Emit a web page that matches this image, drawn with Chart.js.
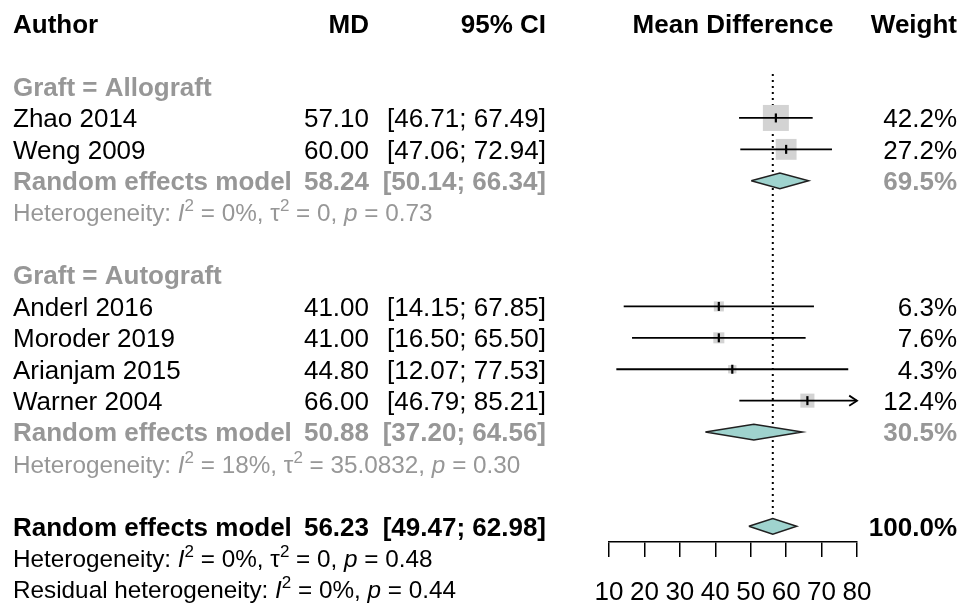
<!DOCTYPE html>
<html>
<head>
<meta charset="utf-8">
<script src="https://cdn.jsdelivr.net/npm/chart.js@4.4.0/dist/chart.umd.min.js"></script>
<style>
  html, body { margin: 0; padding: 0; background: #fff; }
  #wrap { width: 973px; height: 603px; position: relative; }
</style>
</head>
<body>
<div id="wrap"><canvas id="forest"></canvas></div>
<script>
// study level data
const studies = ['Zhao 2014', 'Weng 2009', 'Anderl 2016', 'Moroder 2019', 'Arianjam 2015', 'Warner 2004'];
const studyGraft = ['Allograft', 'Allograft', 'Autograft', 'Autograft', 'Autograft', 'Autograft'];
const md = [57.10, 60.00, 41.00, 41.00, 44.80, 66.00];
const ciLow = [46.71, 47.06, 14.15, 16.50, 12.07, 46.79];
const ciHigh = [67.49, 72.94, 67.85, 65.50, 77.53, 85.21];
const weight = [42.2, 27.2, 6.3, 7.6, 4.3, 12.4];

// subgroups
const groups = ['Allograft', 'Autograft'];
const groupMD = [58.24, 50.88];
const groupLow = [50.14, 37.20];
const groupHigh = [66.34, 64.56];
const groupWeight = [69.5, 30.5];
const groupI2 = ['0%', '18%'];
const groupTau2 = ['0', '35.0832'];
const groupP = ['0.73', '0.30'];

// overall
const overallMD = 56.23;
const overallLow = 49.47;
const overallHigh = 62.98;
const overallWeight = 100.0;
const overallI2 = '0%';
const overallTau2 = '0';
const overallP = '0.48';
const residualI2 = '0%';
const residualP = '0.44';

const xTicks = [10, 20, 30, 40, 50, 60, 70, 80];

const FONT = "'Liberation Sans', Arial, sans-serif";
const BLACK = '#000000';
const GREY = '#979797';
const SQUARE = '#d3d3d3';
const DIAMOND = '#9fd3ce';

// work out which row everything sits on
const studyRow = [];
const groupLabelRow = [], groupRERow = [], groupHetRow = [];
let row = 0;
groups.forEach((g) => {
  row += 2;
  groupLabelRow.push(row);
  studies.forEach((s, i) => {
    if (studyGraft[i] === g) { row++; studyRow[i] = row; }
  });
  row++; groupRERow.push(row);
  row++; groupHetRow.push(row);
});
const overallRow = row + 2;
const overallHetRow = overallRow + 1;
const residualRow = overallRow + 2;

const xMin = xTicks[0], xMax = xTicks[xTicks.length - 1];

function diamond(mid, lo, hi, r, color) {
  const h = 0.25;
  return {
    data: [{x: lo, y: r}, {x: mid, y: r - h}, {x: hi, y: r}, {x: mid, y: r + h}, {x: lo, y: r}],
    showLine: true, fill: 'shape', backgroundColor: color,
    borderColor: '#202020', borderWidth: 1.5, pointRadius: 0, tension: 0, order: 1
  };
}

const datasets = [];

// dotted reference line at the overall estimate
datasets.push({
  data: [{x: overallMD, y: 1.6}, {x: overallMD, y: overallRow}],
  showLine: true, borderColor: BLACK, borderWidth: 2, borderDash: [2, 4],
  borderCapStyle: 'butt', pointRadius: 0, order: 6
});

// weight squares
datasets.push({
  data: studies.map((s, i) => ({x: md[i], y: studyRow[i]})),
  pointStyle: 'rect', pointRadius: weight.map(w => 4 * Math.sqrt(w) / Math.SQRT2),
  backgroundColor: SQUARE, borderWidth: 0, showLine: false, order: 5
});

// confidence intervals
studies.forEach((s, i) => {
  datasets.push({
    data: [{x: Math.max(ciLow[i], xMin), y: studyRow[i]}, {x: Math.min(ciHigh[i], xMax), y: studyRow[i]}],
    showLine: true, borderColor: BLACK, borderWidth: 1.8, pointRadius: 0, order: 4
  });
  if (ciHigh[i] > xMax) {
    datasets.push({
      data: [{x: xMax - 2.2, y: studyRow[i] - 0.16}, {x: xMax, y: studyRow[i]}, {x: xMax - 2.2, y: studyRow[i] + 0.16}],
      showLine: true, borderColor: BLACK, borderWidth: 1.8, pointRadius: 0, order: 4
    });
  }
});

// point estimate ticks
datasets.push({
  data: studies.map((s, i) => ({x: md[i], y: studyRow[i]})),
  pointStyle: 'line', rotation: 90, pointRadius: 4.5,
  borderColor: BLACK, borderWidth: 2.2, showLine: false, order: 3
});

// diamonds
groups.forEach((g, gi) => {
  datasets.push(diamond(groupMD[gi], groupLow[gi], groupHigh[gi], groupRERow[gi], DIAMOND));
});
datasets.push(diamond(overallMD, overallLow, overallHigh, overallRow, DIAMOND));

function richText(ctx, x, y, parts, size, color) {
  ctx.fillStyle = color;
  ctx.textAlign = 'left';
  ctx.textBaseline = 'alphabetic';
  parts.forEach(p => {
    let s = size, dy = 0, style = '';
    if (p.sup) { s = size * 0.7; dy = -size * 0.42; }
    if (p.it) style = 'italic ';
    ctx.font = style + s + 'px ' + FONT;
    ctx.fillText(p.t, x, y + dy);
    x += ctx.measureText(p.t).width;
  });
}

function hetParts(i2, tau2, p) {
  return [
    {t: 'Heterogeneity: '}, {t: 'I', it: true}, {t: '2', sup: true}, {t: ' = ' + i2 + ', '},
    {t: '\u03c4'}, {t: '2', sup: true}, {t: ' = ' + tau2 + ', '},
    {t: 'p', it: true}, {t: ' = ' + p}
  ];
}

const textPlugin = {
  id: 'forestText',
  afterDraw(chart) {
    const ctx = chart.ctx;
    const ys = chart.scales.y;
    const base = r => ys.getPixelForValue(r) + 9.3;
    const put = (txt, x, r, align, bold, color, size) => {
      ctx.font = (bold ? 'bold ' : '') + (size || 26) + 'px ' + FONT;
      ctx.fillStyle = color;
      ctx.textAlign = align;
      ctx.textBaseline = 'alphabetic';
      ctx.fillText(txt, x, base(r));
    };
    ctx.save();
    // header
    put('Author', 13, 0, 'left', true, BLACK);
    put('MD', 369, 0, 'right', true, BLACK);
    put('95% CI', 546, 0, 'right', true, BLACK);
    put('Mean Difference', 733, 0, 'center', true, BLACK);
    put('Weight', 957, 0, 'right', true, BLACK);

    groups.forEach((g, gi) => {
      put('Graft = ' + g, 13, groupLabelRow[gi], 'left', true, GREY);
      put('Random effects model', 13, groupRERow[gi], 'left', true, GREY);
      put(groupMD[gi].toFixed(2), 369, groupRERow[gi], 'right', true, GREY);
      put('[' + groupLow[gi].toFixed(2) + '; ' + groupHigh[gi].toFixed(2) + ']', 546, groupRERow[gi], 'right', true, GREY);
      put(groupWeight[gi].toFixed(1) + '%', 957, groupRERow[gi], 'right', true, GREY);
      richText(ctx, 13, base(groupHetRow[gi]), hetParts(groupI2[gi], groupTau2[gi], groupP[gi]), 24.3, GREY);
    });

    studies.forEach((s, i) => {
      put(s, 13, studyRow[i], 'left', false, BLACK);
      put(md[i].toFixed(2), 369, studyRow[i], 'right', false, BLACK);
      put('[' + ciLow[i].toFixed(2) + '; ' + ciHigh[i].toFixed(2) + ']', 546, studyRow[i], 'right', false, BLACK);
      put(weight[i].toFixed(1) + '%', 957, studyRow[i], 'right', false, BLACK);
    });

    put('Random effects model', 13, overallRow, 'left', true, BLACK);
    put(overallMD.toFixed(2), 369, overallRow, 'right', true, BLACK);
    put('[' + overallLow.toFixed(2) + '; ' + overallHigh.toFixed(2) + ']', 546, overallRow, 'right', true, BLACK);
    put(overallWeight.toFixed(1) + '%', 957, overallRow, 'right', true, BLACK);
    richText(ctx, 13, base(overallHetRow), hetParts(overallI2, overallTau2, overallP), 24.3, BLACK);
    richText(ctx, 13, base(residualRow), [
      {t: 'Residual heterogeneity: '}, {t: 'I', it: true}, {t: '2', sup: true},
      {t: ' = ' + residualI2 + ', '}, {t: 'p', it: true}, {t: ' = ' + residualP}
    ], 24.3, BLACK);
    ctx.restore();
  }
};

new Chart(document.getElementById('forest'), {
  type: 'scatter',
  data: { datasets: datasets },
  options: {
    responsive: true,
    maintainAspectRatio: false,
    animation: false,
    events: [],
    clip: false,
    layout: { autoPadding: false, padding: { left: 609, right: 116, top: 8, bottom: 0 } },
    plugins: { legend: { display: false }, tooltip: { enabled: false } },
    scales: {
      x: {
        type: 'linear',
        position: 'bottom',
        min: xMin,
        max: xMax,
        afterBuildTicks: (s) => { s.ticks = xTicks.map(v => ({ value: v })); },
        afterFit: (s) => { s.height = 61; },
        grid: { drawOnChartArea: false, drawTicks: true, tickLength: 15, color: BLACK, lineWidth: 1.5 },
        border: { display: true, color: BLACK, width: 1.5 },
        ticks: { color: BLACK, font: { family: FONT, size: 26 }, padding: 20, maxRotation: 0, autoSkip: false }
      },
      y: {
        type: 'linear',
        display: false,
        reverse: true,
        min: -0.5,
        max: 16.5
      }
    }
  },
  plugins: [textPlugin]
});
</script>
</body>
</html>
